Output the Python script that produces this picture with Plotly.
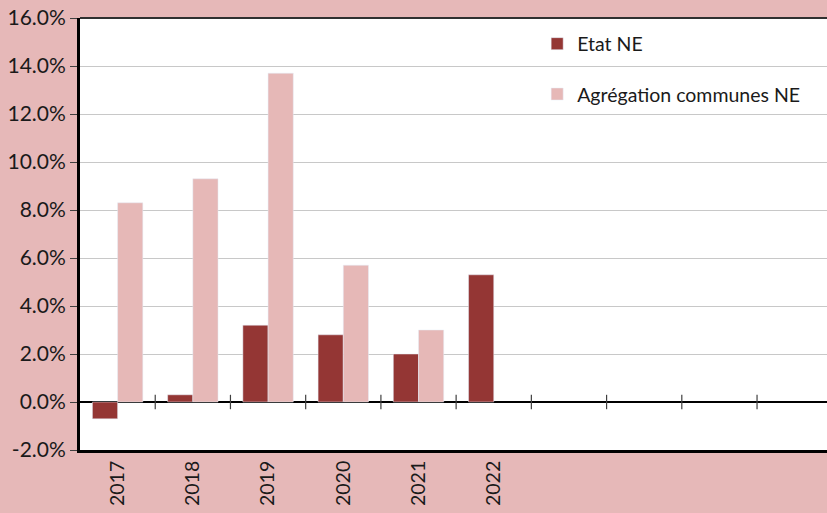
import plotly.graph_objects as go

# Growth rates (%) by year
years = ["2017", "2018", "2019", "2020", "2021", "2022"]
etat_ne = [-0.7, 0.3, 3.2, 2.8, 2.0, 5.3]
communes_ne = [8.3, 9.3, 13.7, 5.7, 3.0, None]

y_ticks = [-2, 0, 2, 4, 6, 8, 10, 12, 14, 16]

DARK = "#943634"
LIGHT = "#E6B8B7"
BG = "#E6B8B8"
FONT = "Lato"
FSIZE = 19.5

n_slots = 10  # the category axis is laid out for ten years
x_pos = list(range(len(years)))

fig = go.Figure()
fig.add_trace(go.Bar(x=x_pos, y=etat_ne, name="Etat NE", marker_color=DARK,
                     legendgroup="a"))
fig.add_trace(go.Bar(x=x_pos, y=communes_ne, name="Agrégation communes NE",
                     marker_color=LIGHT, legendgroup="b"))

# small separators on the zero line between categories
shapes = []
for i in range(n_slots - 1):
    shapes.append(dict(type="line", xref="x", yref="y", x0=i + 0.5, x1=i + 0.5,
                       y0=-0.3, y1=0.3, line=dict(color="#404040", width=1.2)))
# top border of the plot area
shapes.append(dict(type="line", xref="paper", yref="paper", x0=0, x1=1,
                   y0=1, y1=1, line=dict(color="#303030", width=2)))

fig.update_layout(
    width=827, height=513,
    margin=dict(l=80, r=0, t=18, b=63),
    paper_bgcolor=BG, plot_bgcolor="white",
    barmode="group", bargap=0.33, bargroupgap=0,
    font=dict(family=FONT, size=FSIZE, color="#1a1a1a"),
    showlegend=True,
    legend=dict(x=0.612, y=0.985, xanchor="left", yanchor="top",
                bgcolor="rgba(0,0,0,0)", tracegroupgap=22,
                font=dict(family=FONT, size=FSIZE, color="#1a1a1a")),
    shapes=shapes,
    xaxis=dict(range=[-0.5, n_slots - 0.57], tickvals=x_pos, ticktext=years,
               tickangle=-90, showgrid=False, zeroline=False,
               showline=True, linecolor="black", linewidth=3, ticks="",
               tickfont=dict(family=FONT, size=19.5, color="#1a1a1a"),
               automargin=False, fixedrange=True),
    yaxis=dict(range=[-2, 16], tickvals=y_ticks,
               ticktext=[f"{v:.1f}%" for v in y_ticks],
               showgrid=True, gridcolor="#C8C8C8", gridwidth=1,
               zeroline=True, zerolinecolor="black", zerolinewidth=1.5,
               showline=True, linecolor="black", linewidth=3,
               ticks="outside", ticklen=7, tickcolor="#404040",
               tickfont=dict(family=FONT, size=21, color="#1a1a1a"),
               automargin=False, fixedrange=True),
)

fig.write_html("out.html")
